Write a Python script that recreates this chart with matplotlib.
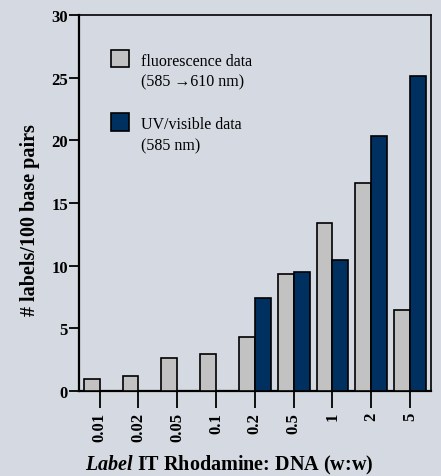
import matplotlib
matplotlib.use("Agg")
import matplotlib.pyplot as plt
import numpy as np
from matplotlib.patches import Rectangle

categories = ["0.01", "0.02", "0.05", "0.1", "0.2", "0.5", "1", "2", "5"]
fluorescence = [0.93, 1.22, 2.6, 2.95, 4.33, 9.33, 13.4, 16.6, 6.49]
uv_visible = [0, 0, 0, 0, 7.45, 9.49, 10.43, 20.37, 25.1]
yticks = [0, 5, 10, 15, 20, 25, 30]

BG = "#d5d9e1"
GREY = "#c2c2c2"
BLUE = "#00305f"

plt.rcParams["mathtext.fontset"] = "custom"
plt.rcParams["mathtext.it"] = "Liberation Serif:italic:bold"
plt.rcParams["mathtext.rm"] = "Liberation Serif:bold"

fig = plt.figure(figsize=(4.41, 4.77), dpi=100, facecolor=BG)
W, H = 441, 477
ax = fig.add_axes([79 / W, 1 - 392 / H, (431 - 79) / W, (392 - 16) / H])
ax.set_facecolor(BG)

x = np.arange(len(categories))
bw = 0.41
ax.bar(x - bw / 2, fluorescence, width=bw, color=GREY, edgecolor="black", linewidth=1.2, zorder=3)
uv_x = [xi for xi, v in zip(x, uv_visible) if v > 0]
uv_v = [v for v in uv_visible if v > 0]
ax.bar(np.array(uv_x) + bw / 2, uv_v, width=bw, color=BLUE, edgecolor="black", linewidth=1.2, zorder=3)

ax.set_xlim(-0.533, 8.54)
ax.set_ylim(0, 30)
ax.set_yticks(yticks)
ax.set_yticklabels([str(t) for t in yticks], fontfamily="Liberation Serif", fontweight="bold", fontsize=12)
ax.set_xticks(x)
ax.set_xticklabels(categories, rotation=90, fontfamily="Liberation Serif", fontweight="bold", fontsize=12)
ax.tick_params(axis="y", length=7, width=1.3, pad=1)
ax.tick_params(axis="x", length=12, width=1.3, pad=3)
for s in ax.spines.values():
    s.set_linewidth(1.2)
ax.spines["bottom"].set_linewidth(1.6)
ax.spines["left"].set_linewidth(1.6)

ax.set_ylabel("# labels/100 base pairs", fontfamily="Liberation Serif", fontweight="bold", fontsize=14.5)
ax.yaxis.set_label_coords(-39 / 352, 0.457)

fig.text(229 / W, 12 / H, r"$\mathit{Label}$ IT Rhodamine: DNA (w:w)", ha="center", va="center",
         fontfamily="Liberation Serif", fontweight="bold", fontsize=14.5)

# legend
for (y0, color, l1, l2) in [(50.7, GREY, "fluorescence data", "(585 \u2192610 nm)"),
                            (114, BLUE, "UV/visible data", "(585 nm)")]:
    fig.patches.append(Rectangle((110.7 / W, 1 - (y0 + 17.6) / H), 18.3 / W, 17.6 / H,
                                 transform=fig.transFigure, facecolor=color, edgecolor="black", linewidth=1.2))
    fig.text(141 / W, 1 - (y0 + 11) / H, l1, ha="left", va="center", fontfamily="Liberation Serif", fontsize=11.5)
    fig.text(141 / W, 1 - (y0 + 32) / H, l2, ha="left", va="center", fontfamily="Liberation Serif", fontsize=11.5)

fig.savefig("out.png", dpi=100, facecolor=BG)
